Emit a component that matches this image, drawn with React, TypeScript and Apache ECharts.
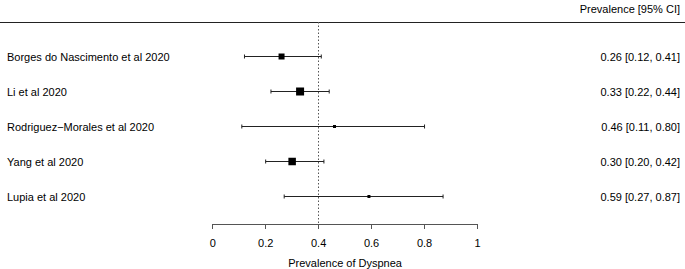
import React, { useEffect, useRef } from "react";
import * as echarts from "echarts";

const studies = [
  "Borges do Nascimento et al 2020",
  "Li et al 2020",
  "Rodriguez\u2212Morales et al 2020",
  "Yang et al 2020",
  "Lupia et al 2020",
];
const estimates = [0.26, 0.33, 0.46, 0.3, 0.59];
const lower = [0.12, 0.22, 0.11, 0.2, 0.27];
const upper = [0.41, 0.44, 0.8, 0.42, 0.87];
const weights = [6, 8, 3, 7.5, 3];
const xTicks = [0, 0.2, 0.4, 0.6, 0.8, 1];
const refLine = 0.4;

const FONT = "'Liberation Sans', Arial, Helvetica, sans-serif";

export default function App() {
  const ref = useRef<HTMLDivElement>(null);
  useEffect(() => {
    if (!ref.current) return;
    const chart = echarts.init(ref.current, null, { renderer: "svg" });
    const data = studies.map((s, i) => [estimates[i], lower[i], upper[i], i + 1, weights[i]]);
    chart.setOption({
      animation: false,
      textStyle: { fontFamily: FONT },
      grid: { left: 212.7, right: 207.5, top: 22, bottom: 45, containLabel: false, outerBoundsMode: "none" },
      xAxis: {
        type: "value",
        min: 0,
        max: 1,
        interval: 0.2,
        splitLine: { show: false },
        axisLine: { show: true, lineStyle: { color: "#555", width: 1 } },
        axisTick: { show: true, length: 5, lineStyle: { color: "#555", width: 1 } },
        axisLabel: {
          margin: 13,
          color: "#000",
          fontSize: 11,
          fontFamily: FONT,
          formatter: (v: number) => (xTicks.includes(Math.round(v * 10) / 10) ? String(Math.round(v * 10) / 10) : ""),
        },
        name: "Prevalence of Dyspnea",
        nameLocation: "middle",
        nameGap: 33,
        nameTextStyle: { color: "#000", fontSize: 11, fontFamily: FONT },
      },
      yAxis: {
        type: "value",
        inverse: true,
        min: 1 - 34 / 35,
        max: 1 + 168 / 35,
        show: false,
      },
      graphic: [
        {
          type: "line",
          shape: { x1: 0, y1: 22.5, x2: 685, y2: 22.5 },
          style: { stroke: "#222", lineWidth: 1 },
        },
        {
          type: "text",
          x: 680,
          y: 9,
          style: {
            text: "Prevalence [95% CI]",
            fill: "#000",
            font: `11px ${FONT}`,
            align: "right",
            verticalAlign: "middle",
          },
        },
      ],
      series: [
        {
          type: "custom",
          clip: false,
          data,
          encode: { x: 0, y: 3 },
          renderItem: (params: any, api: any) => {
            const est = api.value(0);
            const lo = api.value(1);
            const hi = api.value(2);
            const row = api.value(3);
            const w = api.value(4);
            const pLo = api.coord([lo, row]);
            const pHi = api.coord([hi, row]);
            const pE = api.coord([est, row]);
            const y = Math.round(pE[1]) + 0.5;
            const idx = params.dataIndex;
            const stroke = { stroke: "#222", lineWidth: 1 };
            return {
              type: "group",
              children: [
                { type: "line", shape: { x1: pLo[0], y1: y, x2: pHi[0], y2: y }, style: stroke },
                { type: "line", shape: { x1: pLo[0], y1: y - 2, x2: pLo[0], y2: y + 2 }, style: stroke },
                { type: "line", shape: { x1: pHi[0], y1: y - 2, x2: pHi[0], y2: y + 2 }, style: stroke },
                { type: "rect", shape: { x: pE[0] - w / 2, y: y - w / 2, width: w, height: w }, style: { fill: "#000" } },
                {
                  type: "text",
                  x: 7,
                  y: y,
                  style: { text: studies[idx], fill: "#000", font: `11px ${FONT}`, align: "left", verticalAlign: "middle" },
                },
                {
                  type: "text",
                  x: 680,
                  y: y,
                  style: {
                    text: `${est.toFixed(2)} [${lo.toFixed(2)}, ${hi.toFixed(2)}]`,
                    fill: "#000",
                    font: `11px ${FONT}`,
                    align: "right",
                    verticalAlign: "middle",
                  },
                },
              ],
            };
          },
          markLine: {
            silent: true,
            symbol: "none",
            label: { show: false },
            lineStyle: { type: [1.5, 2], color: "#555", width: 1 },
            data: [{ xAxis: refLine }],
          },
        },
      ],
    });
    return () => chart.dispose();
  }, []);
  return <div ref={ref} style={{ width: 685, height: 269, position: "absolute", left: 0, top: 0, background: "#fff" }} />;
}
